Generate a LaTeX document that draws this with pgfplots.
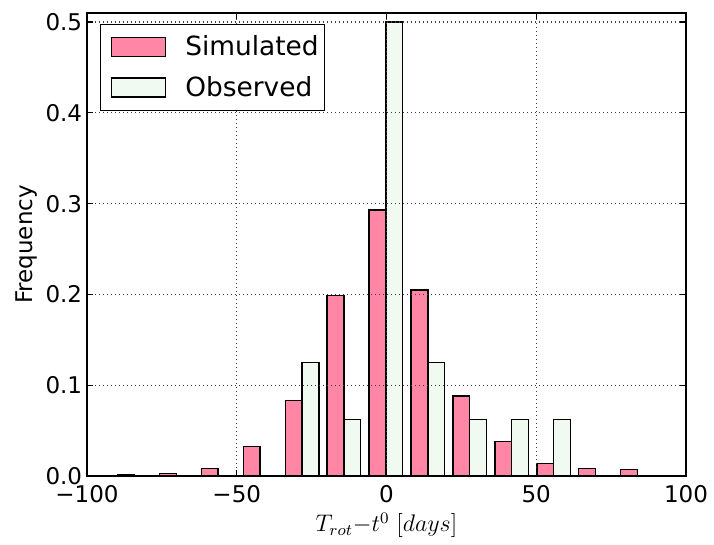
\documentclass[border=0pt]{standalone}
\usepackage{fontspec}
\setmainfont{DejaVu Sans}
\usepackage{pgfplots}
\pgfplotsset{compat=1.18}
\definecolor{simpink}{RGB}{255,135,165}
\definecolor{obsgreen}{RGB}{240,250,240}
\pgfplotsset{mylegend/.style={legend image code/.code={%
  \path (0pt,0pt) (38.6pt,0pt);
  \draw[##1] (4pt,-4.75pt) rectangle (31pt,4.75pt);}}}
\begin{document}
\begin{tikzpicture}
\begin{axis}[
  name=ax, at={(0,0)}, anchor=south west,
  scale only axis, width=299.5pt, height=231.5pt,
  xmin=-100, xmax=100, ymin=0, ymax=0.51,
  xtick={-100,-50,0,50,100},
  xticklabels={−100,−50,0,50,100},
  ytick={0,0.1,0.2,0.3,0.4,0.5},
  yticklabels={0.0,0.1,0.2,0.3,0.4,0.5},
  tick align=inside, xtick pos=both, ytick pos=both, major tick length=3pt,
  tick style={black, line width=0.6pt},
  grid=major, grid style={black!75, line width=0.6pt, dash pattern=on 0.6pt off 1.4pt},
  axis on top,
  axis line style={line width=0.7pt},
  ticklabel style={font=\fontsize{11.5}{13}\selectfont},
  xticklabel style={inner sep=0pt, yshift=-4.5pt},
  yticklabel style={inner sep=0pt, xshift=-2.25pt},
  xlabel={$T_{rot}{-}t^0\;[days]$},
  ylabel={Frequency},
  label style={font=\fontsize{11.5}{13}\selectfont},
  xlabel style={at={(axis description cs:0.5,0)}, anchor=base, yshift=-28pt},
  ylabel style={at={(axis description cs:-0.1002,0.5)}, anchor=center},
  legend style={at={(axis description cs:0,1)}, anchor=north west,
    xshift=6.5pt, yshift=-5.5pt, draw=black, line width=0.7pt, fill=white,
    font=\fontsize{13.2}{15}\selectfont, inner xsep=1pt, inner ysep=3.5pt,
    row sep=4.7pt, cells={anchor=west}},
]
\addplot[ybar, bar width=5.6, bar shift=0pt, fill=simpink, draw=black, line width=0.7pt, mylegend]
coordinates {(-87,0.0015) (-73,0.0026) (-59,0.008) (-45,0.0325) (-31,0.083) (-17,0.199) (-3,0.293) (11,0.205) (25,0.088) (39,0.038) (53,0.0135) (67,0.008) (81,0.007)};
\addlegendentry{Simulated}
\addplot[ybar, bar width=5.6, bar shift=0pt, fill=obsgreen, draw=black, line width=0.7pt, mylegend]
coordinates {(-25.4,0.125) (-11.4,0.0625) (2.6,0.5) (16.6,0.125) (30.6,0.0625) (44.6,0.0625) (58.6,0.0625)};
\addlegendentry{Observed}
\end{axis}
\pgfresetboundingbox
\path[use as bounding box] (-43.5pt,-34.5pt) rectangle (313.5pt,238pt);
\end{tikzpicture}
\end{document}
